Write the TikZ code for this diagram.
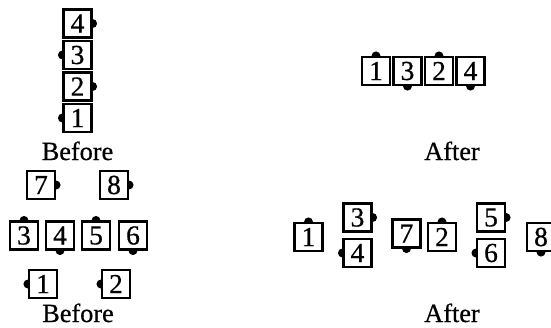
\documentclass[tikz,border=0pt]{standalone}
\usepackage{fontspec}
\setmainfont{Liberation Serif}
\newfontfamily\heavyserif{Liberation Serif}[FakeBold=0.6]
\newcommand{\pinE}[1]{\fill ([yshift=1.8pt]#1.east) arc[start angle=90,end angle=-90,radius=1.8pt] -- cycle;}
\newcommand{\pinW}[1]{\fill ([yshift=1.8pt]#1.west) arc[start angle=90,end angle=270,radius=1.8pt] -- cycle;}
\newcommand{\pinN}[1]{\fill ([xshift=-1.8pt]#1.north) arc[start angle=180,end angle=0,radius=1.8pt] -- cycle;}
\newcommand{\pinS}[1]{\fill ([xshift=-1.8pt]#1.south) arc[start angle=180,end angle=360,radius=1.8pt] -- cycle;}
\begin{document}
\begin{tikzpicture}[x=0.4pt,y=-0.4pt,
  pbox/.style={draw, line width=0.85pt, minimum width=11.2pt, minimum height=11.2pt, inner sep=0pt, font=\heavyserif\fontsize{11}{13}\selectfont},
  lbl/.style={anchor=base, inner sep=0pt, font=\heavyserif\fontsize{10.5}{12}\selectfont}]
\useasboundingbox (0,0) rectangle (551,327);
% top-left stack
\node[pbox] (a4) at (77.5,23.5) {4};
\node[pbox] (a3) at (77.5,55) {3};
\node[pbox] (a2) at (77.5,86.5) {2};
\node[pbox] (a1) at (77.5,118) {1};
\pinE{a4} \pinW{a3} \pinE{a2} \pinW{a1}
\node[lbl] (b1) at (77.5,160) {Before};
% top-right row
\node[pbox] (c1) at (376,71) {1};
\node[pbox] (c3) at (407.5,71) {3};
\node[pbox] (c2) at (439,71) {2};
\node[pbox] (c4) at (470.5,71) {4};
\pinN{c1} \pinS{c3} \pinN{c2} \pinS{c4}
\node[lbl] (af1) at (452,160) {After};
% bottom-left
\node[pbox] (d7) at (41,185) {7};
\node[pbox] (d8) at (114,185) {8};
\pinE{d7} \pinE{d8}
\node[pbox] (d3) at (24,235.5) {3};
\node[pbox] (d4) at (60,235.5) {4};
\node[pbox] (d5) at (96,235.5) {5};
\node[pbox] (d6) at (133,235.5) {6};
\pinN{d3} \pinS{d4} \pinN{d5} \pinS{d6}
\node[pbox] (d1) at (43,284) {1};
\node[pbox] (d2) at (116,284) {2};
\pinW{d1} \pinW{d2}
\node[lbl] (b2) at (78,322) {Before};
% bottom-right
\node[pbox] (e1) at (308.5,237) {1};
\node[pbox] (e3) at (357.5,217.5) {3};
\node[pbox] (e4) at (357.5,253) {4};
\node[pbox] (e7) at (406.5,233.5) {7};
\node[pbox] (e2) at (442,237) {2};
\node[pbox] (e5) at (491,217.5) {5};
\node[pbox] (e6) at (491,253) {6};
\node[pbox] (e8) at (541,237) {8};
\pinN{e1} \pinE{e3} \pinW{e4} \pinS{e7} \pinN{e2} \pinE{e5} \pinW{e6} \pinS{e8}
\node[lbl] (af2) at (452,322) {After};
\end{tikzpicture}
\end{document}
